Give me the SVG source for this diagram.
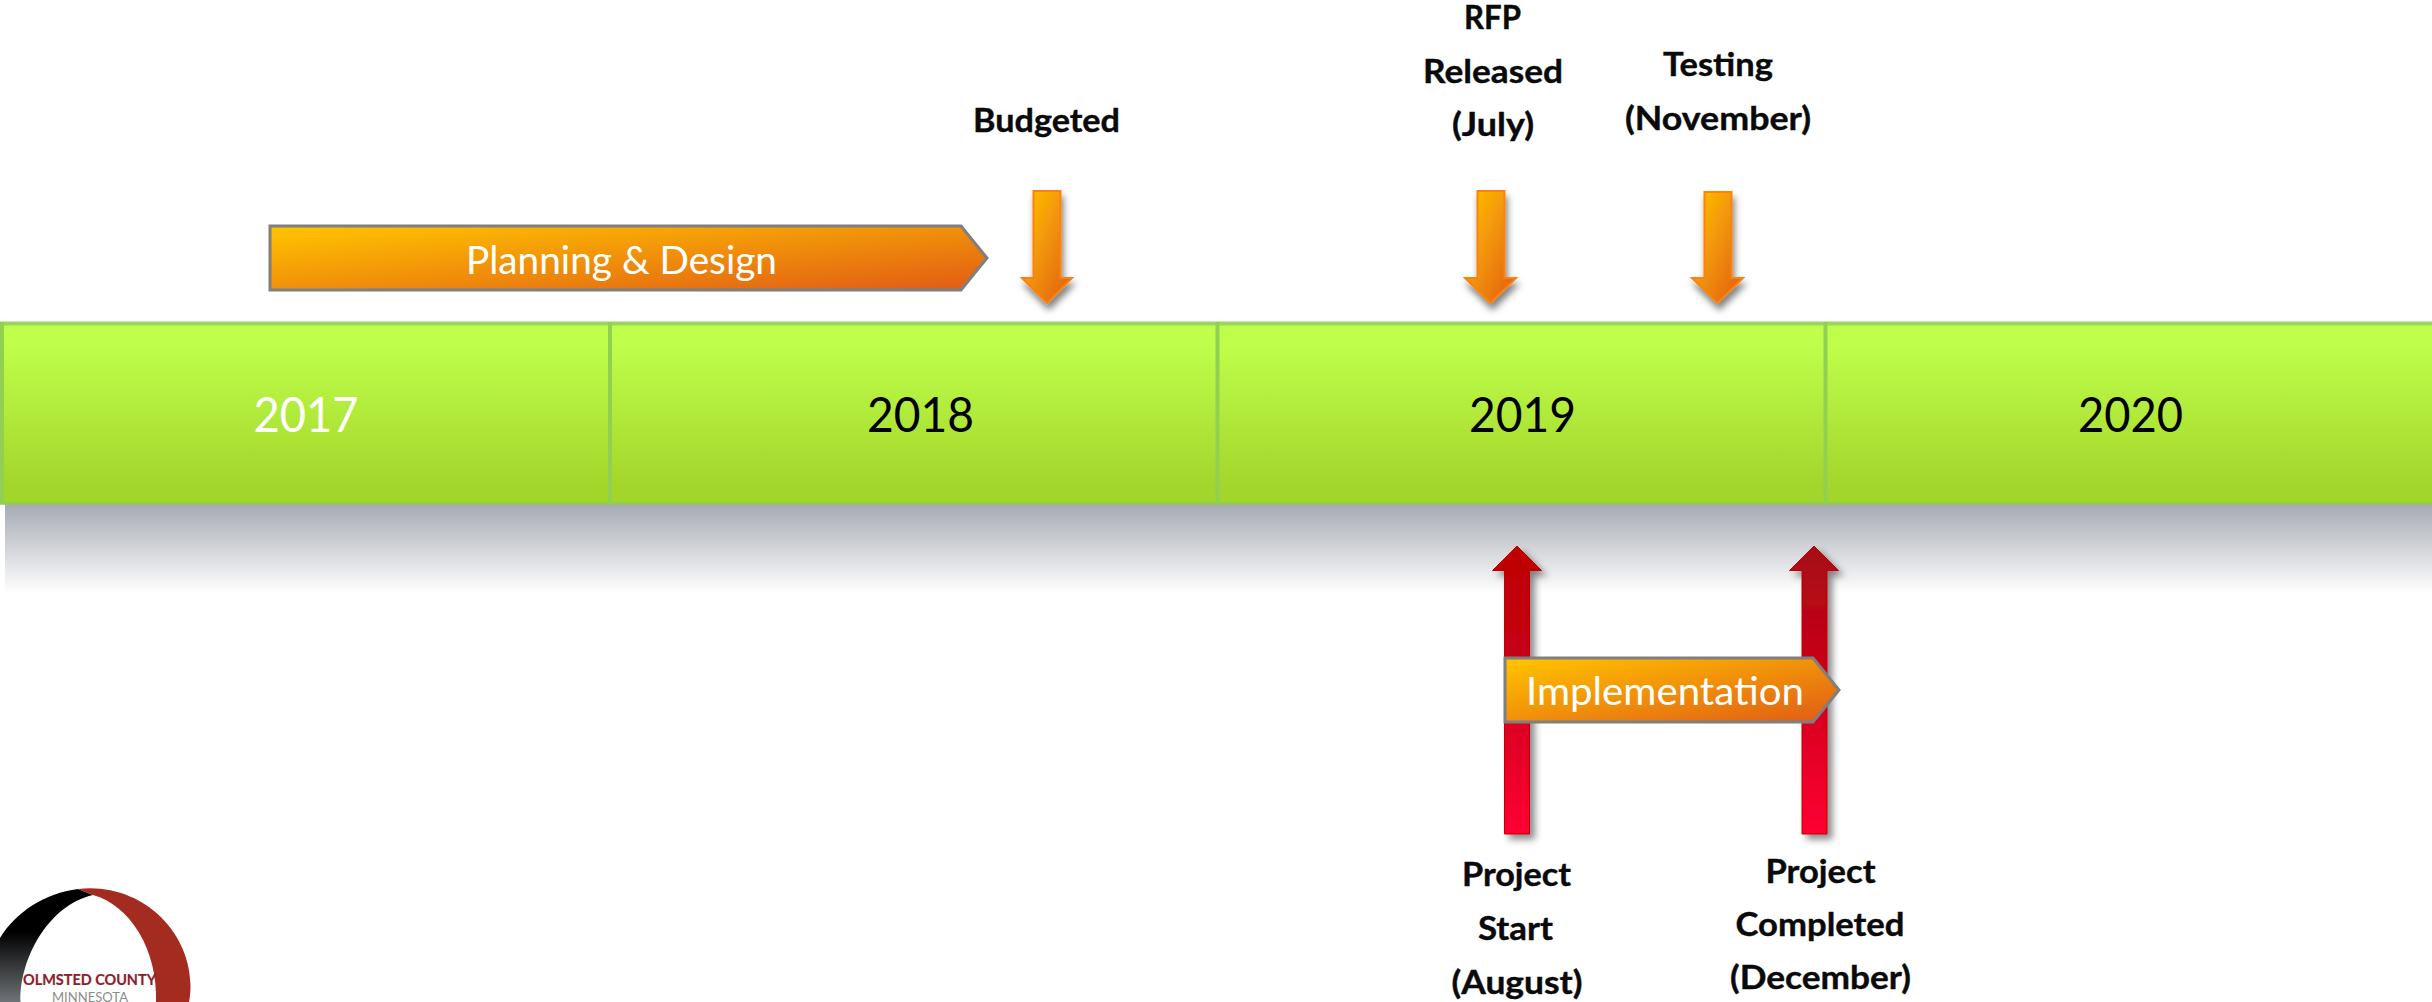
<svg xmlns="http://www.w3.org/2000/svg" width="2432" height="1002" viewBox="0 0 2432 1002">
<style>
text{font-family:"Lato","Open Sans","Liberation Sans",sans-serif}
.yr{font-size:48px;fill:#000}
.cv{font-size:38px;fill:#fff}
.lb{font-size:33px;font-weight:700;fill:#0a0a0a;stroke:#0a0a0a;stroke-width:0.4}
.chev{fill:url(#orange);stroke:#7f7f7f;stroke-width:3}
.down{fill:url(#orange);stroke:#f9830a;stroke-width:2;filter:url(#sh)}
.up1{fill:url(#red1);stroke:#c00000;stroke-width:1;filter:url(#sh2)}
.up2{fill:url(#red2);stroke:#c00000;stroke-width:1;filter:url(#sh2)}
.div{stroke:#92d050;stroke-width:4}
</style>
<defs>
<linearGradient id="orange" x1="0" y1="0" x2="1" y2="1"><stop offset="0.05" stop-color="#ffc000"/><stop offset="0.95" stop-color="#e26014"/></linearGradient>
<linearGradient id="green" x1="0" y1="0" x2="0" y2="1"><stop offset="0.1" stop-color="#bfff4b"/><stop offset="0.9" stop-color="#a3d62b"/></linearGradient>
<linearGradient id="gshadow" x1="0" y1="0" x2="0" y2="1"><stop offset="0" stop-color="#a6aab3"/><stop offset="1" stop-color="#ffffff"/></linearGradient>
<linearGradient id="red1" x1="0" y1="0" x2="0" y2="1"><stop offset="0" stop-color="#bd0000"/><stop offset="0.4" stop-color="#c70018"/><stop offset="1" stop-color="#ff0033"/></linearGradient>
<linearGradient id="red2" x1="0" y1="0" x2="0" y2="1"><stop offset="0" stop-color="#a60e14"/><stop offset="0.4" stop-color="#c70018"/><stop offset="1" stop-color="#ff0033"/></linearGradient>
<linearGradient id="gblack" x1="0" y1="0" x2="0" y2="1"><stop offset="0.38" stop-color="#000"/><stop offset="1" stop-color="#6f7377"/></linearGradient>
<filter id="sh" x="-60%" y="-10%" width="220%" height="125%"><feDropShadow dx="2" dy="6" stdDeviation="3.5" flood-color="#000" flood-opacity="0.5"/></filter>
<filter id="sh2" x="-40%" y="-10%" width="200%" height="120%"><feDropShadow dx="5" dy="5" stdDeviation="3.5" flood-color="#000" flood-opacity="0.45"/></filter>
</defs>
<rect width="2432" height="1002" fill="#fff"/>
<rect id="band-shadow" x="5" y="504" width="2427" height="89" fill="url(#gshadow)"/>
<g id="connectors">
<polygon id="arrow-budgeted" class="down" points="1033.500,191 1060.500,191 1060.500,278 1072,278 1047,303 1022,278 1033.500,278"/>
<polygon id="arrow-rfp" class="down" points="1477.500,191 1504.500,191 1504.500,278 1516,278 1490.500,303 1465,278 1477.500,278"/>
<polygon id="arrow-testing" class="down" points="1704.500,192 1731.500,192 1731.500,278 1743,278 1717.500,303 1692,278 1704.500,278"/>
<polygon id="arrow-start" class="up1" points="1517,546 1541.500,570.500 1529.500,570.500 1529.500,834 1504.500,834 1504.500,570.500 1492.500,570.500"/>
<polygon id="arrow-complete" class="up2" points="1814,546 1838.500,570.500 1827,570.500 1827,834 1802,834 1802,570.500 1789.500,570.500"/>
</g>
<g id="year-2017"><rect x="1.500" y="323.500" width="608.500" height="180" fill="url(#green)"/><text class="yr" style="fill:#fff" x="253.500" y="432" textLength="105" lengthAdjust="spacingAndGlyphs">2017</text></g>
<g id="year-2018"><rect x="610" y="323.500" width="607.500" height="180" fill="url(#green)"/><text class="yr" x="867" y="432" textLength="107" lengthAdjust="spacingAndGlyphs">2018</text></g>
<g id="year-2019"><rect x="1217.500" y="323.500" width="608" height="180" fill="url(#green)"/><text class="yr" x="1469" y="432" textLength="107" lengthAdjust="spacingAndGlyphs">2019</text></g>
<g id="year-2020"><rect x="1825.500" y="323.500" width="606.500" height="180" fill="url(#green)"/><text class="yr" x="2078" y="432" textLength="105" lengthAdjust="spacingAndGlyphs">2020</text></g>
<g id="band-lines">
<path d="M0 323.500H2432" stroke="#9ad561" stroke-width="4" fill="none"/>
<path d="M0 503.500H2432" stroke="#8fcb55" stroke-width="2.500" fill="none"/>
<path class="div" d="M2 322V504M610 322V504M1217.500 322V504M1825.500 322V504" fill="none"/>
</g>
<g id="planning"><polygon class="chev" points="270,226 961,226 987,258 961,290 270,290"/><text class="cv" x="466" y="274" textLength="311" lengthAdjust="spacingAndGlyphs">Planning &amp; Design</text></g>
<g id="implementation"><polygon class="chev" points="1505,658 1813,658 1839,690 1813,722 1505,722"/><text class="cv" x="1526" y="705" textLength="278" lengthAdjust="spacingAndGlyphs">Implementation</text></g>
<g id="label-budgeted"><text class="lb" x="973" y="132" textLength="147" lengthAdjust="spacingAndGlyphs">Budgeted</text></g>
<g id="label-rfp"><text class="lb" x="1464" y="29" textLength="57" lengthAdjust="spacingAndGlyphs">RFP</text><text class="lb" x="1423" y="83" textLength="140" lengthAdjust="spacingAndGlyphs">Released</text><text class="lb" x="1452" y="136" textLength="82" lengthAdjust="spacingAndGlyphs">(July)</text></g>
<g id="label-testing"><text class="lb" x="1663" y="76" textLength="110" lengthAdjust="spacingAndGlyphs">Testing</text><text class="lb" x="1625" y="130" textLength="186" lengthAdjust="spacingAndGlyphs">(November)</text></g>
<g id="label-start"><text class="lb" x="1462" y="886" textLength="109" lengthAdjust="spacingAndGlyphs">Project</text><text class="lb" x="1478" y="940" textLength="75" lengthAdjust="spacingAndGlyphs">Start</text><text class="lb" x="1451.500" y="994" textLength="131" lengthAdjust="spacingAndGlyphs">(August)</text></g>
<g id="label-complete"><text class="lb" x="1765.500" y="883" textLength="110" lengthAdjust="spacingAndGlyphs">Project</text><text class="lb" x="1735.500" y="936" textLength="169" lengthAdjust="spacingAndGlyphs">Completed</text><text class="lb" x="1730" y="989" textLength="181" lengthAdjust="spacingAndGlyphs">(December)</text></g>
<g id="logo">
<path d="M78 889C45 893 16 912 0 938V1002H20.500C19 960 48 905 93 895C88 893 83 891 78 889Z" fill="url(#gblack)"/>
<path d="M78 889C140 882 190 930 190.500 985Q190.500 995 189 1002H156C158 950 130 905 93 895C88 893 83 891 78 889Z" fill="#a32b20"/>
<text x="23" y="985" font-size="15.500" font-weight="700" fill="#8f1d2c" stroke="#8f1d2c" stroke-width="0.2" textLength="133" lengthAdjust="spacingAndGlyphs">OLMSTED COUNTY</text>
<text x="52" y="1001.500" font-size="13" fill="#8c8c8c" textLength="76" lengthAdjust="spacingAndGlyphs">MINNESOTA</text>
</g>
</svg>
